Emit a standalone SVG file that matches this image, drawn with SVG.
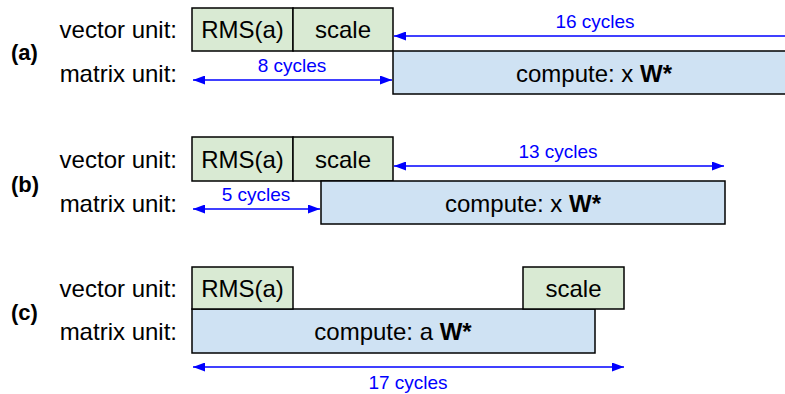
<svg xmlns="http://www.w3.org/2000/svg" width="785" height="394" viewBox="0 0 785 394">
<defs>
<style>
.lbl{font-family:"Liberation Sans",Arial,sans-serif;font-size:24px;fill:#000}
.tag{font-family:"Liberation Sans",Arial,sans-serif;font-size:22px;font-weight:bold;fill:#000}
.cyc{font-family:"Liberation Sans",Arial,sans-serif;font-size:19px;fill:#0000ff;text-anchor:middle}
.vec{fill:#d9ead3;stroke:#000;stroke-width:1.5}
.mat{fill:#cfe2f3;stroke:#000;stroke-width:1.5}
.box{font-family:"Liberation Sans",Arial,sans-serif;font-size:24px;fill:#000;text-anchor:middle}
.arr{stroke:#0000ff;stroke-width:1.6;fill:none}
</style>
<marker id="ah" viewBox="0 0 12 9" refX="12" refY="4.5" markerWidth="12" markerHeight="9" markerUnits="userSpaceOnUse" orient="auto-start-reverse">
<path d="M0,0 L12,4.5 L0,9 Z" fill="#0000ff"/>
</marker>
</defs>

<g id="labels">
<text class="tag" x="11" y="60">(a)</text>
<text class="lbl" x="177" y="38" text-anchor="end">vector unit:</text>
<text class="lbl" x="177" y="82" text-anchor="end">matrix unit:</text>
<text class="tag" x="11" y="192">(b)</text>
<text class="lbl" x="177" y="168" text-anchor="end">vector unit:</text>
<text class="lbl" x="177" y="212" text-anchor="end">matrix unit:</text>
<text class="tag" x="11" y="320">(c)</text>
<text class="lbl" x="177" y="297" text-anchor="end">vector unit:</text>
<text class="lbl" x="177" y="340" text-anchor="end">matrix unit:</text>
</g>

<g id="a-rms"><rect class="vec" x="192" y="8" width="101" height="43"/><text class="box" x="242.5" y="38">RMS(a)</text></g>
<g id="a-scale"><rect class="vec" x="293" y="8" width="100" height="43"/><text class="box" x="343" y="38">scale</text></g>
<g id="a-compute"><rect class="mat" x="393" y="51" width="400" height="43"/><text class="box" x="594" y="82">compute: x <tspan font-weight="bold">W*</tspan></text></g>

<g id="b-rms"><rect class="vec" x="192" y="137" width="101" height="44"/><text class="box" x="242.5" y="168">RMS(a)</text></g>
<g id="b-scale"><rect class="vec" x="293" y="137" width="100" height="44"/><text class="box" x="343" y="168">scale</text></g>
<g id="b-compute"><rect class="mat" x="321" y="181" width="404" height="43"/><text class="box" x="523" y="212">compute: x <tspan font-weight="bold">W*</tspan></text></g>

<g id="c-compute"><rect class="mat" x="192" y="309" width="403" height="44"/><text class="box" x="393" y="340">compute: a <tspan font-weight="bold">W*</tspan></text></g>
<g id="c-rms"><rect class="vec" x="192" y="267" width="101" height="42"/><text class="box" x="242.5" y="297">RMS(a)</text></g>
<g id="c-scale"><rect class="vec" x="523" y="267" width="101" height="42"/><text class="box" x="573.5" y="297">scale</text></g>

<g id="connectors">
<line class="arr" x1="785" y1="36" x2="394" y2="36" marker-end="url(#ah)"/>
<text class="cyc" x="595" y="28">16 cycles</text>
<line class="arr" x1="193" y1="80" x2="392" y2="80" marker-start="url(#ah)" marker-end="url(#ah)"/>
<text class="cyc" x="292" y="72">8 cycles</text>
<line class="arr" x1="394" y1="166" x2="724" y2="166" marker-start="url(#ah)" marker-end="url(#ah)"/>
<text class="cyc" x="558" y="158">13 cycles</text>
<line class="arr" x1="193" y1="209" x2="320" y2="209" marker-start="url(#ah)" marker-end="url(#ah)"/>
<text class="cyc" x="256" y="201">5 cycles</text>
<line class="arr" x1="193" y1="367" x2="624" y2="367" marker-start="url(#ah)" marker-end="url(#ah)"/>
<text class="cyc" x="408" y="389">17 cycles</text>
</g>
</svg>
